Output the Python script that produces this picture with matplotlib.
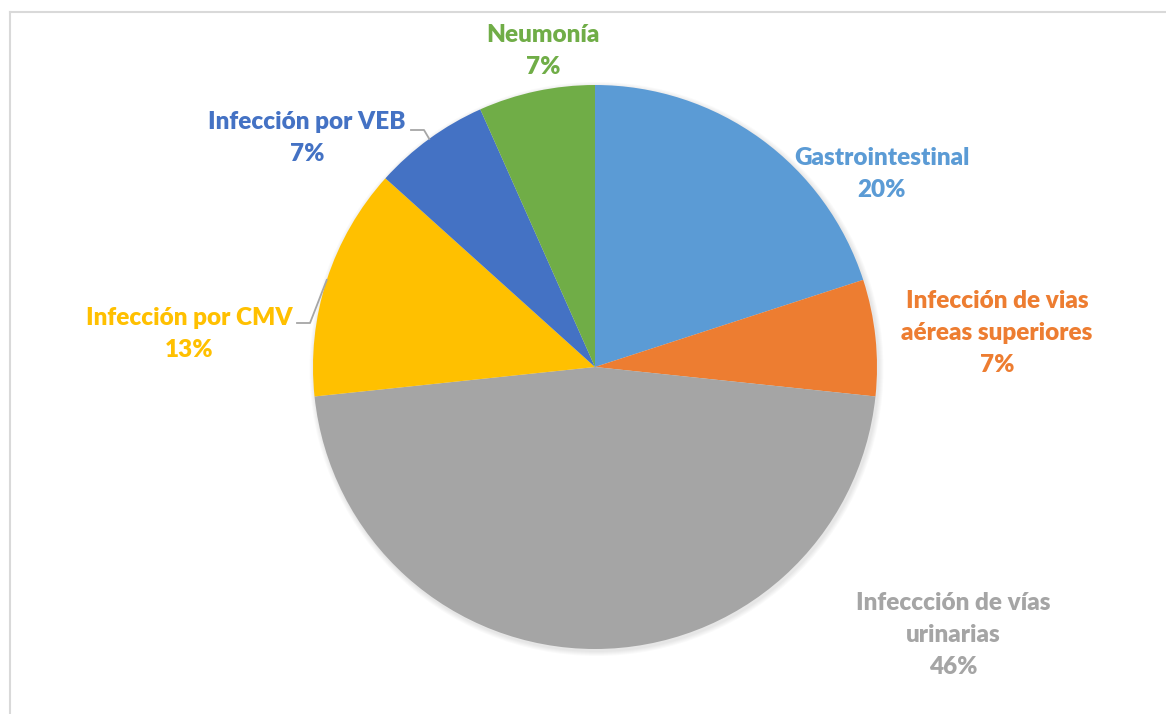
import numpy as np
import matplotlib
matplotlib.use("Agg")
import matplotlib.pyplot as plt
from matplotlib.lines import Line2D
from matplotlib.patches import Circle

# ── data ────────────────────────────────────────────────────────────────
categories = [
    "Gastrointestinal",
    "Infección de vias\naéreas superiores",
    "Infeccción de vías\nurinarias",
    "Infección por CMV",
    "Infección por VEB",
    "Neumonía",
]
counts = [3, 1, 7, 2, 1, 1]
pct_labels = ["20%", "7%", "46%", "13%", "7%", "7%"]

colors = ["#5B9BD5", "#ED7D31", "#A5A5A5", "#FFC000", "#4472C4", "#70AD47"]

# label centres (figure pixels, y down); leader stub start (x, y) or None
label_pos = [(882, 174), (997, 333), (953, 635), (189, 334), (307, 138), (543, 51)]
stub = [None, None, None, (297, 323), (411, 130), None]

W, H = 1166, 714
CX, CY, R = 595, 367, 282

plt.rcParams["font.family"] = ["Lato", "DejaVu Sans"]

fig = plt.figure(figsize=(W / 100, H / 100), dpi=100, facecolor="white")
ax = fig.add_axes([0, 0, 1, 1])

# soft shadow behind the pie
for k in range(5, 0, -1):
    ax.add_patch(Circle((CX + 1.5, H - CY - 2), R + k, color="black",
                        alpha=0.018, lw=0, zorder=0))

wedges, _ = ax.pie(counts, colors=colors, startangle=90, counterclock=False,
                   center=(CX, H - CY), radius=R,
                   wedgeprops=dict(linewidth=0, zorder=1))
ax.set_xlim(0, W)
ax.set_ylim(0, H)
ax.set_aspect("equal")
ax.axis("off")

for w, cat, pct, col, (lx, ly), st in zip(wedges, categories, pct_labels,
                                            colors, label_pos, stub):
    ax.text(lx, H - ly, f"{cat}\n{pct}", ha="center", va="center",
            fontsize=17.5, fontweight="heavy", color=col, linespacing=1.55)
    if st is not None:
        th = np.deg2rad((w.theta1 + w.theta2) / 2)
        ex, ey = CX + R * np.cos(th), (H - CY) + R * np.sin(th)
        sx, sy = st
        ax.plot([sx, sx + 13, ex], [H - sy, H - sy, ey],
                color="#A6A6A6", lw=1.3)

# frame lines (light grey, top and left)
fig.add_artist(Line2D([10 / W, 1], [1 - 12 / H, 1 - 12 / H],
                      color="#D9D9D9", lw=1.5, transform=fig.transFigure))
fig.add_artist(Line2D([10 / W, 10 / W], [0, 1 - 12 / H],
                      color="#D9D9D9", lw=1.5, transform=fig.transFigure))

fig.savefig("out.png", dpi=100, facecolor="white")
